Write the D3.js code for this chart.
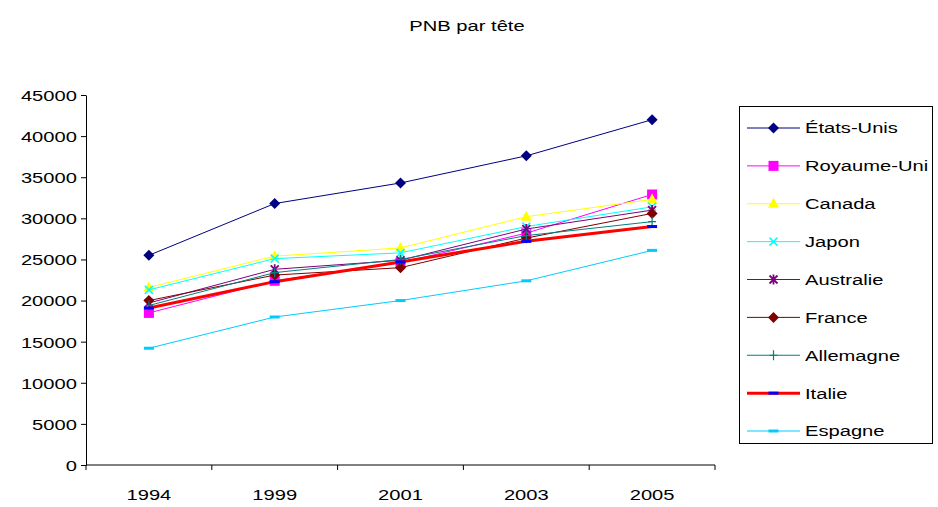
<!DOCTYPE html>
<html>
<head>
<meta charset="utf-8">
<script src="https://cdn.jsdelivr.net/npm/d3@7/dist/d3.min.js"></script>
<style>
  html, body { margin: 0; padding: 0; background: #fff; }
  svg { display: block; }
  text { font-family: "Liberation Sans", Arial, sans-serif; fill: #000; }
</style>
</head>
<body>
<svg id="chart" width="938" height="507"></svg>
<script>
// PNB par tête, 1994-2005 (USD)
const years = ["1994", "1999", "2001", "2003", "2005"];
const countries = ["États-Unis", "Royaume-Uni", "Canada", "Japon", "Australie", "France", "Allemagne", "Italie", "Espagne"];
const etatsUnis  = [25500, 31800, 34300, 37600, 42000];
const royaumeUni = [18500, 22400, 24600, 28200, 32900];
const canada     = [21600, 25400, 26400, 30200, 32300];
const japon      = [21300, 25100, 25800, 29000, 31400];
const australie  = [19700, 23800, 24900, 28700, 31000];
const france     = [20000, 23100, 24000, 27600, 30600];
const allemagne  = [19400, 23400, 25000, 27900, 29600];
const italie     = [19100, 22300, 24700, 27200, 29000];
const espagne    = [14200, 18000, 20000, 22400, 26100];
const yTicks = [0, 5000, 10000, 15000, 20000, 25000, 30000, 35000, 40000, 45000];

const seriesValues = [etatsUnis, royaumeUni, canada, japon, australie, france, allemagne, italie, espagne];
const lineColors   = ["#000080", "#ff00ff", "#ffff00", "#00ffff", "#800080", "#800000", "#008080", "#ff0000", "#00ccff"];
const markerColors = ["#000080", "#ff00ff", "#ffff00", "#00ffff", "#800080", "#800000", "#008080", "#0000ff", "#00ccff"];
const markerTypes  = ["diamond", "square", "triangle", "cross", "star", "diamond", "plus", "dash", "dash"];
const lineWidths   = [1, 1, 1, 1, 1, 1, 1, 3, 1];

const series = countries.map((name, i) => ({
  name, values: seriesValues[i], color: lineColors[i], mcolor: markerColors[i],
  marker: markerTypes[i], width: lineWidths[i]
}));

const svg = d3.select("#chart");
const TX = "scale(1.3,1)"; // glyphs are drawn horizontally stretched

const plot = { left: 86, right: 715, top: 95, bottom: 465 };
const x = d3.scaleBand().domain(years).range([plot.left, plot.right]);
const y = d3.scaleLinear().domain([0, 45000]).range([plot.bottom, plot.top]);
const cx = d => x(d) + x.bandwidth() / 2;

// title
svg.append("text")
  .attr("transform", `translate(467,31) ${TX}`)
  .attr("text-anchor", "middle")
  .attr("font-size", 15.5)
  .text("PNB par tête");

// y axis
const yAxis = svg.append("g")
  .attr("transform", `translate(${plot.left},0)`)
  .call(d3.axisLeft(y).tickValues(yTicks).tickSize(5).tickSizeOuter(0).tickFormat(d3.format("d")));
yAxis.select(".domain").attr("stroke", "#000");
yAxis.selectAll(".tick line").attr("stroke", "#000");
yAxis.selectAll(".tick text")
  .attr("font-size", 15.5).attr("font-family", "Liberation Sans, Arial, sans-serif")
  .attr("x", -7).attr("dy", "0.35em")
  .attr("transform", TX);

// x axis: labels at band centres, ticks at band boundaries
const xAxis = svg.append("g")
  .attr("transform", `translate(0,${plot.bottom})`);
xAxis.append("line")
  .attr("x1", plot.left).attr("x2", plot.right)
  .attr("y1", 0).attr("y2", 0).attr("stroke", "#000");
const boundaries = years.map(d => x(d)).concat([x(years[years.length - 1]) + x.bandwidth()]);
xAxis.selectAll("line.tk").data(boundaries).join("line")
  .attr("class", "tk")
  .attr("x1", d => d).attr("x2", d => d)
  .attr("y1", 0).attr("y2", 5).attr("stroke", "#000");
xAxis.selectAll("text").data(years).join("text")
  .attr("transform", d => `translate(${cx(d)},35) ${TX}`)
  .attr("text-anchor", "middle")
  .attr("font-size", 15.5)
  .text(d => d);

// marker drawing
function drawMarker(g, type, color) {
  switch (type) {
    case "diamond":
      g.append("path").attr("d", "M0,-5.5L5.5,0L0,5.5L-5.5,0Z").attr("fill", color);
      break;
    case "square":
      g.append("rect").attr("x", -5).attr("y", -5).attr("width", 10).attr("height", 10).attr("fill", color);
      break;
    case "triangle":
      g.append("path").attr("d", "M0,-6L5.5,4L-5.5,4Z").attr("fill", color);
      break;
    case "cross":
      g.append("path").attr("d", "M-4,-4L4,4M-4,4L4,-4").attr("stroke", color).attr("stroke-width", 1.5).attr("fill", "none");
      break;
    case "star":
      g.append("path").attr("d", "M-4,-4L4,4M-4,4L4,-4M0,-5L0,5").attr("stroke", color).attr("stroke-width", 1.8).attr("fill", "none");
      break;
    case "plus":
      g.append("path").attr("d", "M-4,0L4,0M0,-5L0,5").attr("stroke", color).attr("stroke-width", 1.2).attr("fill", "none");
      break;
    case "dash":
      g.append("rect").attr("x", -5).attr("y", -1.5).attr("width", 10).attr("height", 3).attr("fill", color);
      break;
  }
}

// lines and markers
const line = d3.line().x((d, i) => cx(years[i])).y(d => y(d));
const layer = svg.append("g");
series.forEach(s => {
  const g = layer.append("g");
  g.append("path")
    .attr("d", line(s.values))
    .attr("fill", "none")
    .attr("stroke", s.color)
    .attr("stroke-width", s.width);
  s.values.forEach((v, i) => {
    const m = g.append("g").attr("transform", `translate(${cx(years[i])},${y(v)})`);
    drawMarker(m, s.marker, s.mcolor);
  });
});

// legend
const legend = svg.append("g");
legend.append("rect")
  .attr("x", 739.5).attr("y", 106.5).attr("width", 193).attr("height", 337)
  .attr("fill", "#fff").attr("stroke", "#000");
const legendY = d3.scalePoint().domain(countries).range([128, 431]);
series.forEach(s => {
  const ly = legendY(s.name);
  legend.append("line")
    .attr("x1", 747).attr("x2", 800).attr("y1", ly).attr("y2", ly)
    .attr("stroke", s.color).attr("stroke-width", s.width);
  const m = legend.append("g").attr("transform", `translate(773.5,${ly})`);
  drawMarker(m, s.marker, s.mcolor);
  legend.append("text")
    .attr("transform", `translate(805,${ly}) ${TX}`)
    .attr("dy", "0.35em")
    .attr("font-size", 15.5)
    .text(s.name);
});
</script>
</body>
</html>
